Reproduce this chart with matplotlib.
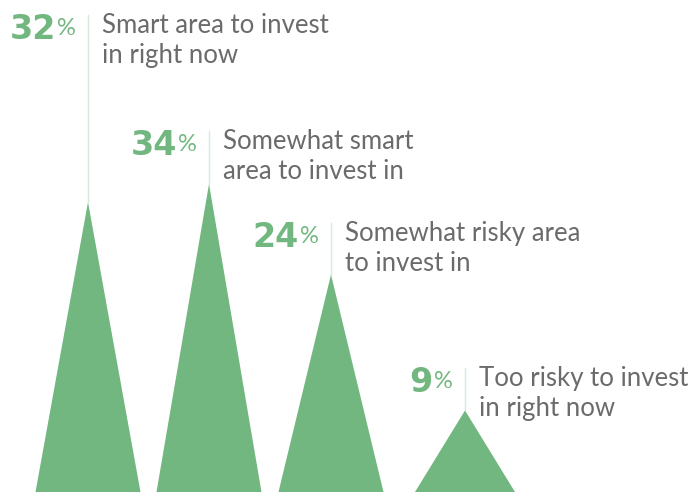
import matplotlib.pyplot as plt
from matplotlib.transforms import offset_copy

# data
values = [32, 34, 24, 9]
labels = ["Smart area to invest\nin right now",
          "Somewhat smart\narea to invest in",
          "Somewhat risky area\nto invest in",
          "Too risky to invest\nin right now"]

# layout (pixels / percent units)
centers = [88, 209, 331, 465]
widths = [105, 105, 105, 100]
label_tops = [52.6, 39.8, 29.7, 13.7]

green = '#72b77f'
grey = '#6b6b6b'
stem = '#d6eadb'
px = 0.72  # points per pixel at dpi 100

plt.rcParams['font.family'] = ['Lato', 'DejaVu Sans']
fig = plt.figure(figsize=(6.91, 4.93), dpi=100)
ax = fig.add_axes([0, 1 / 493, 1, 492 / 493])
ax.set_xlim(0, 691)
ax.set_ylim(0, 492 / 9.06)
ax.axis('off')

for c, w, v, lab, top in zip(centers, widths, values, labels, label_tops):
    ax.fill([c - w / 2, c, c + w / 2], [0, v, 0], color=green, lw=0)
    ax.plot([c, c], [v, top], color=stem, lw=1)

    # percent number
    t = offset_copy(ax.transData, fig=fig, x=-32 * px, y=-24 * px, units='points')
    ax.text(c, top, str(v), transform=t, ha='right', va='baseline',
            fontsize=24, fontweight='heavy', color=green, family='DejaVu Sans')
    t = offset_copy(ax.transData, fig=fig, x=-31 * px, y=-20 * px, units='points')
    ax.text(c, top, '%', transform=t, ha='left', va='baseline',
            fontsize=17, color=green)

    # description
    for i, line in enumerate(lab.split('\n')):
        t = offset_copy(ax.transData, fig=fig, x=14 * px, y=-(18 + 30 * i) * px, units='points')
        ax.text(c, top, line, transform=t, ha='left', va='baseline',
                fontsize=18.5, color=grey)

fig.savefig('out.png', dpi=100)
